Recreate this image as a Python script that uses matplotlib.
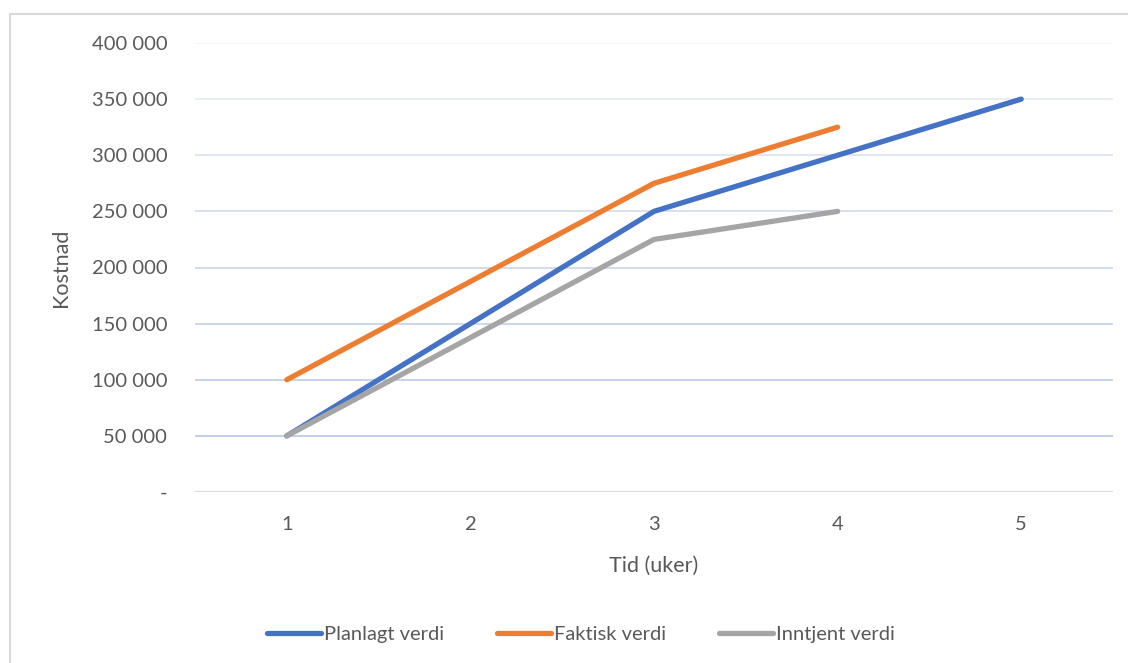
import matplotlib
matplotlib.use("Agg")
import matplotlib.pyplot as plt
from matplotlib.patches import Rectangle

# Earned value data per week
weeks = [1, 2, 3, 4, 5]
planlagt = [50000, 150000, 250000, 300000, 350000]
faktisk = [100000, 187500, 275000, 325000]
inntjent = [50000, 137500, 225000, 250000]

yticks = [0, 50000, 100000, 150000, 200000, 250000, 300000, 350000, 400000]
ytick_labels = ["-", "50 000", "100 000", "150 000", "200 000",
                "250 000", "300 000", "350 000", "400 000"]
# gridlines fade from blue at the bottom to almost white at the top
grid_colors = ["#d9d9d9", "#c2cfe9", "#c6d2eb", "#ccd7ed", "#d2dcef",
               "#d9e0f1", "#e0e6f4", "#e8ecf6", "#f1f3f9"]

plt.rcParams["font.family"] = ["Lato", "DejaVu Sans"]
text_color = "#595959"

fig = plt.figure(figsize=(11.28, 6.63), dpi=100)
fig.patches.append(Rectangle((10 / 1128, -0.1), 1.2, 1.1 - 14 / 663,
                             transform=fig.transFigure, fill=False,
                             edgecolor="#d9d9d9", linewidth=1.5))

ax = fig.add_axes([195 / 1128, 1 - 492 / 663, 918 / 1128, 449 / 663])
ax.set_xlim(0.5, 5.5)
ax.set_ylim(0, 400000)

for y, c in zip(yticks, grid_colors):
    ax.axhline(y, color=c, linewidth=1.4 if y else 1.6, zorder=1)

lw = 3.8
ax.plot(weeks[:len(planlagt)], planlagt, color="#4472C4", lw=lw,
        solid_capstyle="round", solid_joinstyle="round", label="Planlagt verdi", zorder=3)
ax.plot(weeks[:len(faktisk)], faktisk, color="#ED7D31", lw=lw,
        solid_capstyle="round", solid_joinstyle="round", label="Faktisk verdi", zorder=3)
ax.plot(weeks[:len(inntjent)], inntjent, color="#A5A5A5", lw=lw,
        solid_capstyle="round", solid_joinstyle="round", label="Inntjent verdi", zorder=4)

ax.set_yticks(yticks)
ax.set_yticklabels(ytick_labels)
ax.set_xticks(weeks)
ax.set_xticklabels([str(w) for w in weeks])
ax.tick_params(axis="y", length=0, pad=20, labelsize=14.5, labelcolor=text_color)
ax.tick_params(axis="x", length=0, pad=17, labelsize=14.5, labelcolor=text_color)
for s in ax.spines.values():
    s.set_visible(False)

ax.set_ylabel("Kostnad", fontsize=15.5, color=text_color, labelpad=15)
ax.set_xlabel("Tid (uker)", fontsize=15.5, color=text_color, labelpad=17)

leg = fig.legend(loc="center", bbox_to_anchor=(0.515, 1 - 634 / 663), ncol=3,
                 frameon=False, fontsize=14.5, handlelength=2.7, handletextpad=0.15,
                 columnspacing=2.6, labelcolor=text_color)

fig.savefig("out.png", dpi=100)
